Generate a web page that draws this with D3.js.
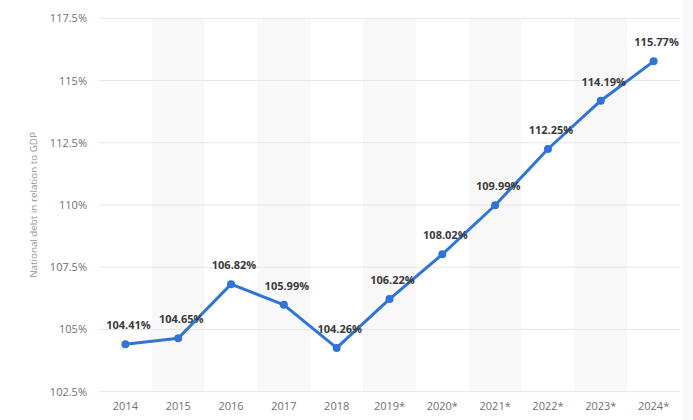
<!DOCTYPE html>
<html>
<head>
<meta charset="utf-8">
<script src="https://cdn.jsdelivr.net/npm/d3@7"></script>
<style>
  body { margin: 0; background: #fff; }
  svg { display: block; }
</style>
</head>
<body>
<div id="chart"></div>
<script>
let years = ["2014", "2015", "2016", "2017", "2018", "2019*", "2020*", "2021*", "2022*", "2023*", "2024*"]
let debt = [104.41, 104.65, 106.82, 105.99, 104.26, 106.22, 108.02, 109.99, 112.25, 114.19, 115.77]
let y_ticks = [102.5, 105, 107.5, 110, 112.5, 115, 117.5]

let w = 693
let h = 420
let font = "'Open Sans', sans-serif"

let x = d3.scaleBand()
    .domain(years)
    .range([99, 680])

let y = d3.scaleLinear()
    .domain([102.5, 117.5])
    .range([391.7, 18.3])

let fmt_tick = d => `${d}%`

let svg = d3.select("#chart")
    .append("svg")
    .attr("width", w)
    .attr("height", h)

// faint strip at the right edge
svg.append("rect")
    .attr("x", 683)
    .attr("y", 0)
    .attr("width", 10)
    .attr("height", h)
    .attr("fill", "#f8f8f8")

// alternating column bands
svg.selectAll(".band")
    .data(years.filter((_, i) => i % 2 == 1))
    .enter()
    .append("rect")
    .attr("class", "band")
    .attr("x", d => x(d))
    .attr("y", y(117.5))
    .attr("width", x.bandwidth())
    .attr("height", y(102.5) - y(117.5))
    .attr("fill", "#f8f8f8")

// gridlines
svg.selectAll(".grid")
    .data(y_ticks)
    .enter()
    .append("line")
    .attr("class", "grid")
    .attr("x1", 99)
    .attr("x2", 680)
    .attr("y1", d => y(d))
    .attr("y2", d => y(d))
    .attr("stroke", "#e6e6e6")
    .attr("stroke-width", 1)

// y axis labels
let y_axis = svg.append("g")
    .attr("transform", `translate(87, 0)`)
    .call(d3.axisLeft(y).tickValues(y_ticks).tickFormat(fmt_tick).tickSize(0).tickPadding(0))
y_axis.select(".domain").remove()
y_axis.selectAll("text")
    .attr("font-family", font)
    .attr("font-size", 11)
    .attr("fill", "#707070")

// x axis labels
let x_axis = svg.append("g")
    .attr("transform", `translate(0, 402)`)
    .call(d3.axisBottom(x).tickSize(0).tickPadding(0))
x_axis.select(".domain").remove()
x_axis.selectAll("text")
    .attr("font-family", font)
    .attr("font-size", 11)
    .attr("fill", "#707070")

// y axis title
svg.append("text")
    .attr("transform", `translate(37, 205) rotate(-90)`)
    .attr("text-anchor", "middle")
    .attr("font-family", font)
    .attr("font-size", 9.8)
    .attr("fill", "#999")
    .text("National debt in relation to GDP")

let cx = d => x(d) + x.bandwidth() / 2

let line = d3.line()
    .x((d, i) => cx(years[i]))
    .y(d => y(d))

svg.append("path")
    .datum(debt)
    .attr("d", line)
    .attr("fill", "none")
    .attr("stroke", "#2f74d6")
    .attr("stroke-width", 3)
    .attr("stroke-linejoin", "round")

svg.selectAll(".pt")
    .data(debt)
    .enter()
    .append("circle")
    .attr("class", "pt")
    .attr("cx", (d, i) => cx(years[i]))
    .attr("cy", d => y(d))
    .attr("r", 4)
    .attr("fill", "#2f74d6")

svg.selectAll(".val")
    .data(debt)
    .enter()
    .append("text")
    .attr("class", "val")
    .attr("x", (d, i) => cx(years[i]) + 3)
    .attr("y", d => y(d) - 15)
    .attr("text-anchor", "middle")
    .attr("font-family", font)
    .attr("font-size", 11)
    .attr("font-weight", "bold")
    .attr("fill", "#3a3a3a")
    .text(d => `${d.toFixed(2)}%`)
</script>
</body>
</html>
